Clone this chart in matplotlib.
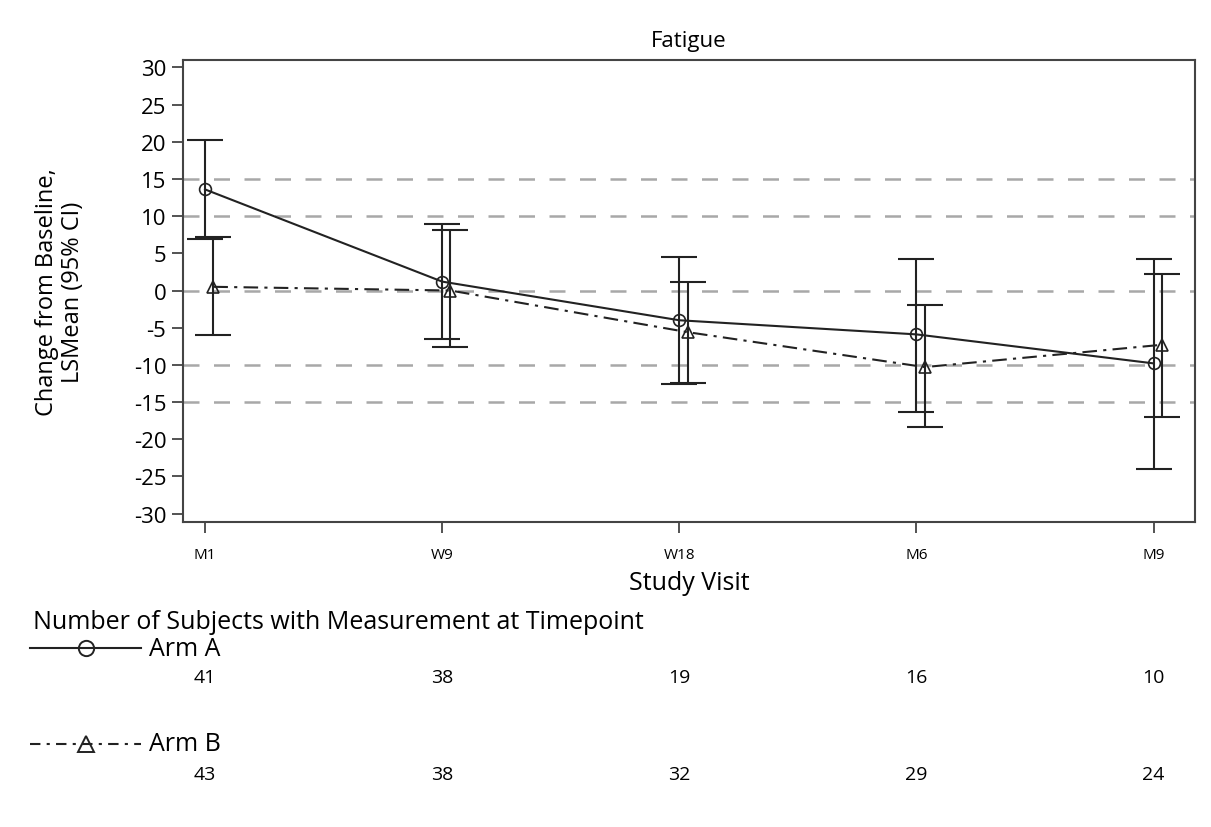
import matplotlib.pyplot as plt
import numpy as np
from matplotlib.lines import Line2D
import matplotlib.transforms as mtransforms

plt.rcParams['font.family'] = ['Open Sans', 'DejaVu Sans']
plt.rcParams['axes.unicode_minus'] = False

# donnees
visites = ['M1', 'W9', 'W18', 'M6', 'M9']
moyA = [13.6, 1.2, -4.0, -5.9, -9.8]
basA = [6.9, -6.5, -12.6, -16.3, -24.0]
hautA = [20.3, 8.9, 4.5, 4.2, 4.2]
moyB = [0.5, 0.0, -5.6, -10.3, -7.3]
basB = [-6.0, -7.6, -12.5, -18.3, -17.0]
hautB = [7.2, 8.1, 1.2, -2.0, 2.2]
nA = [41, 38, 19, 16, 10]
nB = [43, 38, 32, 29, 24]
refs = [15, 10, 0, -10, -15]

noir = '#222222'
decalB = 0.035
W, H = 1211, 828

fig = plt.figure(figsize=(12.11, 8.28), dpi=100)
ax = fig.add_axes([0.1511, 0.3678, 0.8357, 0.5589])

x = np.arange(len(visites))
xb = x + decalB

for r in refs:
    ax.axhline(r, color='#a8a8a8', lw=1.8, dashes=(6.4, 5.8), zorder=1)

mA = np.array(moyA); mB = np.array(moyB)
ax.errorbar(x, mA, yerr=[mA - np.array(basA), np.array(hautA) - mA], fmt='none',
            ecolor=noir, elinewidth=1.5, capsize=13, capthick=1.5, zorder=3)
ax.errorbar(xb, mB, yerr=[mB - np.array(basB), np.array(hautB) - mB], fmt='none',
            ecolor=noir, elinewidth=1.5, capsize=13, capthick=1.5, zorder=3)
ax.plot(x, mA, color=noir, lw=1.5, marker='o', ms=8.5, mfc='none', mec=noir, mew=1.2, zorder=4)
ax.plot(xb, mB, color=noir, lw=1.5, dashes=(7, 3, 1.5, 3), marker='^', ms=8.5,
        mfc='none', mec=noir, mew=1.2, zorder=4)

ax.set_xlim(-0.093, 4.175)
ax.set_ylim(-31.2, 31.05)
ax.set_yticks(np.arange(-30, 31, 5))
ax.set_xticks(x)
ax.set_xticklabels(visites, fontsize=11)
ax.tick_params(axis='y', labelsize=16, length=8, width=1.3, color='#444444', pad=4)
ax.tick_params(axis='x', length=8, width=1.3, color='#444444', pad=10)
for s in ax.spines.values():
    s.set_color('#444444')
    s.set_linewidth(1.5)

# titres
fig.text(689 / W, 1 - 41 / H, 'Fatigue', fontsize=16, ha='center', va='center')
fig.text(689 / W, 1 - 584 / H, 'Study Visit', fontsize=18, ha='center', va='center')
fig.text(60 / W, 1 - 292 / H, 'Change from Baseline,\nLSMean (95% CI)', fontsize=17,
         rotation=90, ha='center', va='center', multialignment='center', linespacing=1.1)

# tableau du nombre de sujets
fig.text(33 / W, 1 - 623 / H, 'Number of Subjects with Measurement at Timepoint',
         fontsize=18, va='center', ha='left')
trans = mtransforms.blended_transform_factory(ax.transData, fig.transFigure)

def legende(y, style, marqueur, nom):
    yf = 1 - y / H
    ln = Line2D([30 / W, 141 / W], [yf, yf], transform=fig.transFigure,
                color=noir, lw=1.5, **style)
    fig.add_artist(ln)
    mk = Line2D([86 / W], [yf], transform=fig.transFigure, marker=marqueur, ms=11,
                mfc='none', mec=noir, mew=1.4, ls='none')
    fig.add_artist(mk)
    fig.text(149 / W, yf, nom, fontsize=18, va='center', ha='left')

legende(649, {}, 'o', 'Arm A')
legende(745, {'dashes': (5, 3, 1.5, 3)}, '^', 'Arm B')

for i in range(len(visites)):
    fig.text(x[i], 1 - 678 / H, str(nA[i]), transform=trans, fontsize=14, ha='center', va='center')
    fig.text(x[i], 1 - 775 / H, str(nB[i]), transform=trans, fontsize=14, ha='center', va='center')

fig.savefig('out.png', dpi=100)
